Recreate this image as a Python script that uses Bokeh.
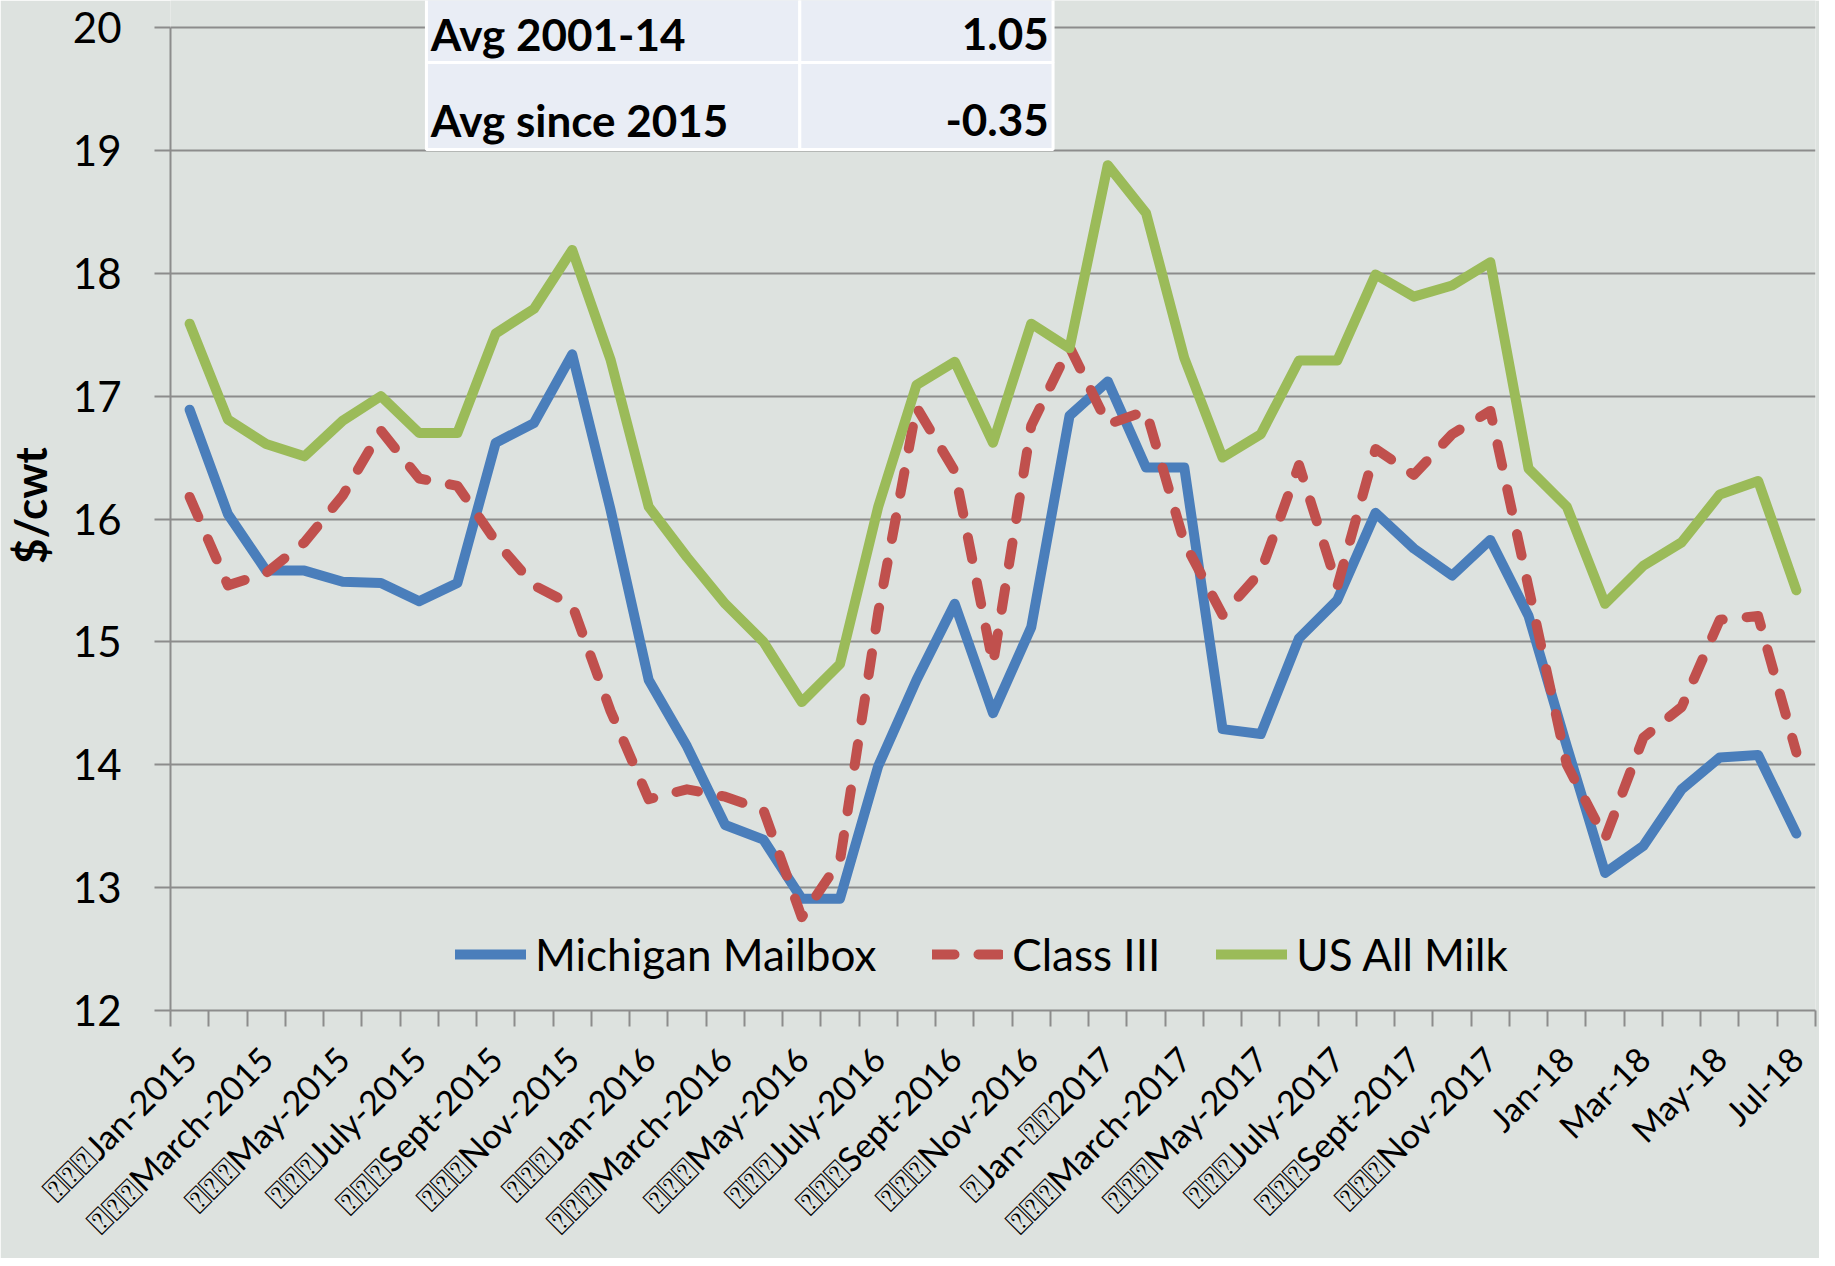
import math
from bokeh.plotting import figure
from bokeh.models import FixedTicker, Range1d, Legend, LegendItem
from bokeh.core.properties import value
from bokeh.embed import file_html
from bokeh.resources import INLINE

# ---------------- data ----------------
Q = "\u2370"
month_labels = {
    0: Q * 3 + "Jan-2015", 2: Q * 3 + "March-2015", 4: Q * 3 + "May-2015",
    6: Q * 3 + "July-2015", 8: Q * 3 + "Sept-2015", 10: Q * 3 + "Nov-2015",
    12: Q * 3 + "Jan-2016", 14: Q * 3 + "March-2016", 16: Q * 3 + "May-2016",
    18: Q * 3 + "July-2016", 20: Q * 3 + "Sept-2016", 22: Q * 3 + "Nov-2016",
    24: Q + "Jan-" + Q * 2 + "2017", 26: Q * 3 + "March-2017", 28: Q * 3 + "May-2017",
    30: Q * 3 + "July-2017", 32: Q * 3 + "Sept-2017", 34: Q * 3 + "Nov-2017",
    36: "Jan-18", 38: "Mar-18", 40: "May-18", 42: "Jul-18",
}
n_months = 43
month_index = list(range(n_months))

michigan_mailbox = [
    16.89, 16.04, 15.58, 15.58, 15.49, 15.48, 15.33, 15.48, 16.62, 16.78, 17.34, 16.08,
    14.69, 14.15, 13.51, 13.39, 12.91, 12.91, 13.99, 14.69, 15.31, 14.42, 15.12, 16.84,
    17.12, 16.42, 16.42, 14.29, 14.25, 15.03, 15.34, 16.05, 15.76, 15.54, 15.83, 15.21,
    14.15, 13.12, 13.34, 13.80, 14.06, 14.08, 13.44,
]
class_iii = [
    16.18, 15.46, 15.56, 15.81, 16.19, 16.72, 16.33, 16.27, 15.82, 15.46, 15.30, 14.44,
    13.72, 13.80, 13.74, 13.63, 12.76, 13.22, 15.24, 16.91, 16.39, 14.82, 16.76, 17.40,
    16.77, 16.88, 15.81, 15.22, 15.57, 16.44, 15.45, 16.57, 16.36, 16.69, 16.88, 15.44,
    14.00, 13.40, 14.22, 14.47, 15.18, 15.21, 14.10,
]
us_all_milk = [
    17.59, 16.81, 16.61, 16.51, 16.80, 17.00, 16.70, 16.70, 17.51, 17.71, 18.19, 17.30,
    16.10, 15.69, 15.31, 15.00, 14.51, 14.82, 16.10, 17.09, 17.28, 16.62, 17.59, 17.39,
    18.88, 18.49, 17.31, 16.50, 16.69, 17.29, 17.29, 17.99, 17.81, 17.90, 18.09, 16.41,
    16.10, 15.31, 15.62, 15.81, 16.20, 16.31, 15.42,
]
series_names = ["Michigan Mailbox", "Class III", "US All Milk"]
y_ticks = list(range(12, 21))

table_labels = ["Avg 2001-14", "Avg since 2015"]
table_values = ["1.05", "-0.35"]

# ---------------- layout / style constants ----------------
BLUE, RED, GREEN = "#4a7ebb", "#c0504d", "#9bbb59"
BG = "#dde2df"
GRID = "#8c8c8c"
FONT = "Lato"
LW = 10

p = figure(
    width=1819, height=1258,
    x_range=Range1d(-0.5, n_months - 0.5),
    y_range=Range1d(12, 20.22),
    output_backend="svg", toolbar_location=None,
    min_border_left=163, min_border_right=4, min_border_top=0, min_border_bottom=247,
)
p.background_fill_color = BG
p.border_fill_color = BG
p.outline_line_color = None

# grid
p.xgrid.grid_line_color = None
p.ygrid.grid_line_color = GRID
p.ygrid.grid_line_width = 2

# y axis
p.yaxis.ticker = FixedTicker(ticks=y_ticks)
p.yaxis.bounds = (12, 20)
p.yaxis.axis_line_color = GRID
p.yaxis.axis_line_width = 2
p.yaxis.major_tick_line_color = GRID
p.yaxis.major_tick_line_width = 2
p.yaxis.major_tick_out = 16
p.yaxis.major_tick_in = 0
p.yaxis.minor_tick_line_color = None
p.yaxis.major_label_text_font = FONT
p.yaxis.major_label_text_font_size = "42px"
p.yaxis.major_label_text_color = "black"
p.yaxis.major_label_standoff = 33
p.yaxis.axis_label = "$/cwt"
p.yaxis.axis_label_text_font = FONT
p.yaxis.axis_label_text_font_size = "44px"
p.yaxis.axis_label_text_font_style = "bold"
p.yaxis.axis_label_text_color = "black"
p.yaxis.axis_label_standoff = 14

# x axis
p.xaxis.ticker = FixedTicker(ticks=list(range(0, n_months, 2)),
                             minor_ticks=[i - 0.5 for i in range(n_months + 1)])
p.xaxis.major_label_overrides = month_labels
p.xaxis.major_label_orientation = math.pi / 4
p.xaxis.major_label_text_font = FONT
p.xaxis.major_label_text_font_size = "34px"
p.xaxis.major_label_text_color = "black"
p.xaxis.major_label_standoff = 26
p.xaxis.axis_line_color = GRID
p.xaxis.axis_line_width = 2
p.xaxis.major_tick_line_color = None
p.xaxis.major_tick_out = 0
p.xaxis.major_tick_in = 0
p.xaxis.minor_tick_line_color = GRID
p.xaxis.minor_tick_line_width = 2
p.xaxis.minor_tick_out = 16
p.xaxis.minor_tick_in = 0

# series
r1 = p.line(month_index, michigan_mailbox, line_color=BLUE, line_width=LW,
            line_join="round", line_cap="round")
r2 = p.line(month_index, class_iii, line_color=RED, line_width=LW,
            line_join="round", line_cap="round", line_dash="22 24")
r3 = p.line(month_index, us_all_milk, line_color=GREEN, line_width=LW,
            line_join="round", line_cap="round")

legend = Legend(
    items=[LegendItem(label=series_names[0], renderers=[r1]),
           LegendItem(label=series_names[1], renderers=[r2]),
           LegendItem(label=series_names[2], renderers=[r3])],
    orientation="horizontal", location=(285, 30),
    background_fill_alpha=0, border_line_color=None,
    label_text_font=FONT, label_text_font_size="44px", label_text_color="black",
    glyph_width=71, glyph_height=40, label_standoff=9, spacing=56,
    padding=0, margin=0,
)
p.add_layout(legend)

# summary table (top)
col_edges = [6.19, 15.95, 22.57]
row_edges = [20.3, 19.715, 19.008]
p.quad(left=[col_edges[0], col_edges[1], col_edges[0], col_edges[1]],
       right=[col_edges[1], col_edges[2], col_edges[1], col_edges[2]],
       top=[row_edges[0], row_edges[0], row_edges[1], row_edges[1]],
       bottom=[row_edges[1], row_edges[1], row_edges[2], row_edges[2]],
       fill_color="#e9edf5", line_color="white", line_width=3)
row_text_y = [19.95, 19.25]
p.text(x=[6.30, 6.30], y=row_text_y, text=table_labels,
       text_font=value(FONT), text_font_style="bold", text_font_size="44px",
       text_baseline="middle", text_align="left", text_color="black")
p.text(x=[22.46, 22.46], y=row_text_y, text=table_values,
       text_font=value(FONT), text_font_style="bold", text_font_size="44px",
       text_baseline="middle", text_align="right", text_color="black")

open("out.html", "w").write(file_html(p, INLINE))
